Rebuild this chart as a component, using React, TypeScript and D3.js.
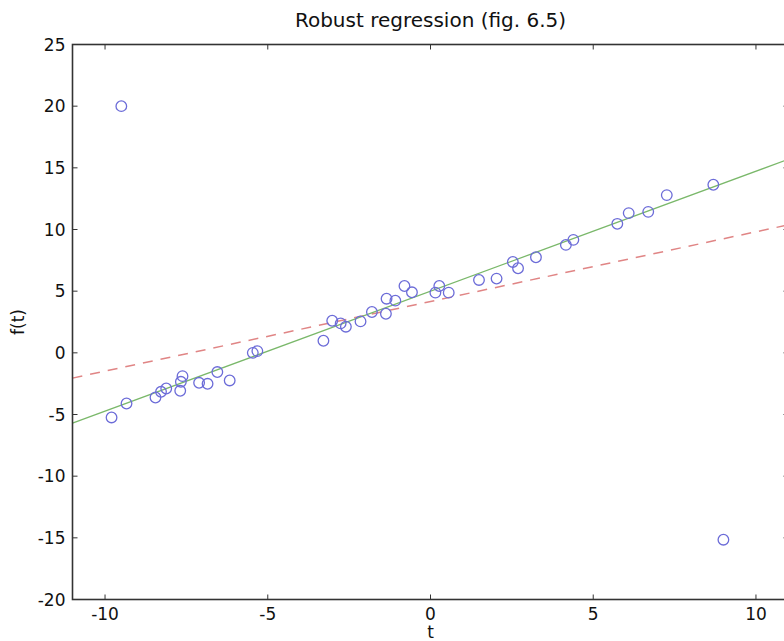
import { useEffect, useRef } from 'react'
import * as d3 from 'd3'

// data points
const tValues = [
  -9.5, -9.8, -9.34, -8.45, -8.28, -8.12, -7.69, -7.67, -7.62, -7.11, -6.85, -6.55, -6.17, -5.46, -5.32,
  -3.29, -3.02, -2.76, -2.6, -2.15, -1.8, -1.37, -1.35, -1.08, -0.8, -0.57, 0.15, 0.27, 0.56,
  1.49, 2.03, 2.53, 2.69, 3.24, 4.16, 4.39, 5.74, 6.09, 6.69, 7.26, 8.69, 9.0,
]
const fValues = [
  20.0, -5.24, -4.11, -3.62, -3.16, -2.89, -3.08, -2.35, -1.89, -2.43, -2.51, -1.56, -2.24, 0.0, 0.14,
  0.98, 2.6, 2.39, 2.12, 2.55, 3.31, 3.17, 4.39, 4.23, 5.42, 4.91, 4.88, 5.42, 4.88,
  5.91, 6.02, 7.37, 6.86, 7.75, 8.75, 9.16, 10.46, 11.33, 11.43, 12.79, 13.63, -15.15,
]

// fitted lines, evaluated at the ends of the t range
const lineT = [-11, 11]
const robustFit = [-5.7, 15.7]
const lsFit = [-2.05, 10.38]

const xTicks = [-10, -5, 0, 5, 10]
const yTicks = [-20, -15, -10, -5, 0, 5, 10, 15, 20, 25]

const App = () => {
  const ref = useRef<SVGSVGElement>(null)

  useEffect(() => {
    if (!ref.current) return
    const svg = d3.select(ref.current)
    svg.selectAll('*').remove()

    const left = 72.5, right = 788.5, top = 44.5, bottom = 599.5
    const x = d3.scaleLinear().domain([-11, 11]).range([left, right])
    const y = d3.scaleLinear().domain([-20, 25]).range([bottom, top])
    const font = 'DejaVu Sans, sans-serif'

    // title
    svg.append('text')
      .attr('x', (left + right) / 2)
      .attr('y', 27)
      .attr('text-anchor', 'middle')
      .style('font-family', font)
      .style('font-size', '20px')
      .style('fill', '#111')
      .text('Robust regression (fig. 6.5)')

    // lines
    const pts = (vals: number[]) => lineT.map((t, i) => [t, vals[i]] as [number, number])
    const line = d3.line<[number, number]>().x(d => x(d[0])).y(d => y(d[1]))

    svg.append('path')
      .attr('d', line(pts(lsFit)))
      .attr('fill', 'none')
      .attr('stroke', '#e08585')
      .attr('stroke-width', 1.5)
      .attr('stroke-dasharray', '10,8')

    svg.append('path')
      .attr('d', line(pts(robustFit)))
      .attr('fill', 'none')
      .attr('stroke', '#7ab86a')
      .attr('stroke-width', 1.3)

    // points
    svg.selectAll('circle.pt')
      .data(tValues.map((t, i) => [t, fValues[i]]))
      .enter()
      .append('circle')
      .attr('class', 'pt')
      .attr('cx', d => x(d[0]))
      .attr('cy', d => y(d[1]))
      .attr('r', 5.3)
      .attr('fill', 'none')
      .attr('stroke', '#6c6cd8')
      .attr('stroke-width', 1.3)

    // frame
    svg.append('rect')
      .attr('x', left)
      .attr('y', top)
      .attr('width', right - left)
      .attr('height', bottom - top)
      .attr('fill', 'none')
      .attr('stroke', '#333')
      .attr('stroke-width', 1.6)

    // ticks (inward, all sides)
    const tl = 5
    xTicks.forEach(t => {
      svg.append('line').attr('x1', x(t)).attr('x2', x(t)).attr('y1', bottom).attr('y2', bottom - tl)
        .attr('stroke', '#333').attr('stroke-width', 1)
      svg.append('line').attr('x1', x(t)).attr('x2', x(t)).attr('y1', top).attr('y2', top + tl)
        .attr('stroke', '#333').attr('stroke-width', 1)
      svg.append('text')
        .attr('x', x(t))
        .attr('y', bottom + 20)
        .attr('text-anchor', 'middle')
        .style('font-family', font)
        .style('font-size', '17px')
        .style('fill', '#111')
        .text(String(t))
    })
    yTicks.forEach(v => {
      svg.append('line').attr('x1', left).attr('x2', left + tl).attr('y1', y(v)).attr('y2', y(v))
        .attr('stroke', '#333').attr('stroke-width', 1)
      svg.append('line').attr('x1', right).attr('x2', right - tl).attr('y1', y(v)).attr('y2', y(v))
        .attr('stroke', '#333').attr('stroke-width', 1)
      svg.append('text')
        .attr('x', left - 7)
        .attr('y', y(v))
        .attr('dy', '0.36em')
        .attr('text-anchor', 'end')
        .style('font-family', font)
        .style('font-size', '17px')
        .style('fill', '#111')
        .text(String(v))
    })

    // axis labels
    svg.append('text')
      .attr('x', (left + right) / 2)
      .attr('y', 638)
      .attr('text-anchor', 'middle')
      .style('font-family', font)
      .style('font-size', '17px')
      .style('fill', '#111')
      .text('t')

    svg.append('text')
      .attr('transform', `translate(24,${(top + bottom) / 2}) rotate(-90)`)
      .attr('text-anchor', 'middle')
      .style('font-family', font)
      .style('font-size', '17px')
      .style('fill', '#111')
      .text('f(t)')
  }, [])

  return (
    <svg
      ref={ref}
      width={784}
      height={641}
      style={{ position: 'absolute', left: 0, top: 0, background: '#fff' }}
    />
  )
}

export default App
